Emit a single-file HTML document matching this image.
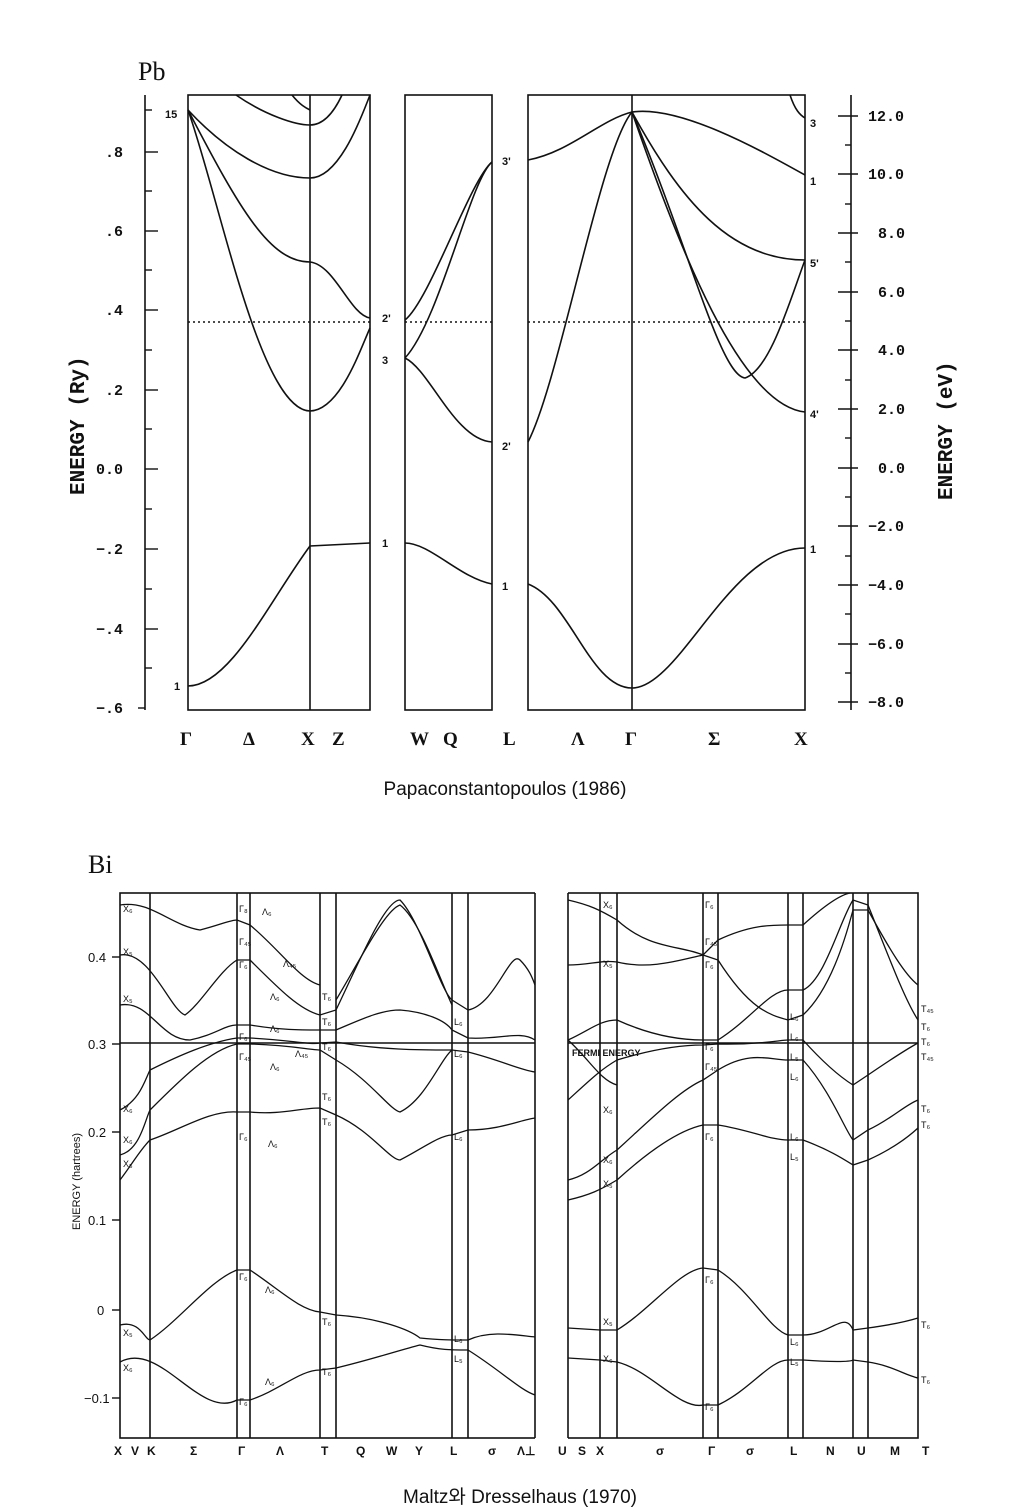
<!DOCTYPE html>
<html><head><meta charset="utf-8"><style>
html,body{margin:0;padding:0;background:#fff}
svg{display:block}
text{fill:#111}
.s{font-family:"Liberation Mono",monospace;font-size:15px;font-weight:bold}
.g{font-family:"Liberation Serif",serif;font-weight:bold;font-size:19px}
.t{font-family:"Liberation Sans",sans-serif;font-size:9px}
</style></head><body>
<svg width="1035" height="1512" viewBox="0 0 1035 1512" xmlns="http://www.w3.org/2000/svg">
<g fill="none" stroke="#111" stroke-width="1.6">
<!-- Pb axes -->
<line x1="145" y1="95" x2="145" y2="710"/>
<line x1="851" y1="95" x2="851" y2="710"/>
<g stroke-width="1.4">
<line x1="145" y1="110" x2="152" y2="110"/><line x1="145" y1="152" x2="158" y2="152"/><line x1="145" y1="191" x2="152" y2="191"/>
<line x1="145" y1="231" x2="158" y2="231"/><line x1="145" y1="270" x2="152" y2="270"/><line x1="145" y1="310" x2="158" y2="310"/>
<line x1="145" y1="350" x2="152" y2="350"/><line x1="145" y1="390" x2="158" y2="390"/><line x1="145" y1="429" x2="152" y2="429"/>
<line x1="145" y1="469" x2="158" y2="469"/><line x1="145" y1="509" x2="152" y2="509"/><line x1="145" y1="549" x2="158" y2="549"/>
<line x1="145" y1="589" x2="152" y2="589"/><line x1="145" y1="629" x2="158" y2="629"/><line x1="145" y1="668" x2="152" y2="668"/>
<line x1="138" y1="708" x2="145" y2="708"/>
<line x1="838" y1="116" x2="858" y2="116"/><line x1="845" y1="145" x2="851" y2="145"/><line x1="838" y1="174" x2="858" y2="174"/><line x1="845" y1="204" x2="851" y2="204"/>
<line x1="838" y1="233" x2="858" y2="233"/><line x1="845" y1="262" x2="851" y2="262"/><line x1="838" y1="292" x2="858" y2="292"/><line x1="845" y1="321" x2="851" y2="321"/>
<line x1="838" y1="350" x2="858" y2="350"/><line x1="845" y1="380" x2="851" y2="380"/><line x1="838" y1="409" x2="858" y2="409"/><line x1="845" y1="438" x2="851" y2="438"/>
<line x1="838" y1="468" x2="858" y2="468"/><line x1="845" y1="497" x2="851" y2="497"/><line x1="838" y1="526" x2="858" y2="526"/><line x1="845" y1="556" x2="851" y2="556"/>
<line x1="838" y1="585" x2="858" y2="585"/><line x1="845" y1="614" x2="851" y2="614"/><line x1="838" y1="644" x2="858" y2="644"/><line x1="845" y1="673" x2="851" y2="673"/>
<line x1="838" y1="702" x2="858" y2="702"/>
</g>
<!-- panels -->
<rect x="188" y="95" width="182" height="615"/>
<line x1="310" y1="95" x2="310" y2="710"/>
<rect x="405" y="95" width="87" height="615"/>
<rect x="528" y="95" width="277" height="615"/>
<line x1="632" y1="95" x2="632" y2="710"/>
<g stroke-dasharray="2,3" stroke-width="1.4"><line x1="188" y1="322" x2="370" y2="322"/><line x1="405" y1="322" x2="492" y2="322"/><line x1="528" y1="322" x2="805" y2="322"/></g>
<!-- bands -->
<path d="M188,686 C230,686 270,600 310,546 L370,543"/>
<path d="M188,110 C220,200 260,410 310,411 C340,410 360,350 370,328"/>
<path d="M188,110 C240,210 270,262 310,262 C335,265 350,315 370,318"/>
<path d="M188,110 C225,150 270,178 310,178 C340,178 362,115 370,95"/>
<path d="M236,95 C265,115 295,125 310,125 C325,125 335,110 342,95"/>
<path d="M292,95 C300,105 306,108 310,110"/>
<path d="M405,543 C430,543 460,578 492,584"/>
<path d="M405,358 C430,370 455,440 492,442"/>
<path d="M405,358 C440,320 470,180 492,162"/>
<path d="M405,320 C430,300 470,180 492,162"/>
<path d="M528,584 C570,600 590,688 632,688 C680,688 730,548 805,548"/>
<path d="M528,442 C560,380 600,150 632,112"/>
<path d="M528,160 C570,152 600,120 632,112"/>
<path d="M632,112 C680,105 760,150 805,175"/>
<path d="M632,112 C680,200 730,260 805,260"/>
<path d="M632,112 C690,250 720,375 745,378 C770,370 790,300 805,260"/>
<path d="M632,112 C680,250 740,405 805,412"/>
<path d="M790,95 C795,110 800,115 805,118"/>

<!-- Bi frame -->
<rect x="120" y="893" width="798" height="545"/>
<line x1="120" y1="1043" x2="918" y2="1043"/>
<g stroke-width="1.4">
<line x1="112" y1="957" x2="120" y2="957"/><line x1="112" y1="1044" x2="120" y2="1044"/><line x1="112" y1="1132" x2="120" y2="1132"/>
<line x1="112" y1="1220" x2="120" y2="1220"/><line x1="112" y1="1310" x2="120" y2="1310"/><line x1="112" y1="1398" x2="120" y2="1398"/>
</g>
<g>
<line x1="150" y1="893" x2="150" y2="1438"/><line x1="237" y1="893" x2="237" y2="1438"/><line x1="250" y1="893" x2="250" y2="1438"/>
<line x1="320" y1="893" x2="320" y2="1438"/><line x1="336" y1="893" x2="336" y2="1438"/><line x1="452" y1="893" x2="452" y2="1438"/>
<line x1="468" y1="893" x2="468" y2="1438"/><line x1="600" y1="893" x2="600" y2="1438"/><line x1="617" y1="893" x2="617" y2="1438"/>
<line x1="703" y1="893" x2="703" y2="1438"/><line x1="718" y1="893" x2="718" y2="1438"/><line x1="788" y1="893" x2="788" y2="1438"/>
<line x1="803" y1="893" x2="803" y2="1438"/><line x1="853" y1="893" x2="853" y2="1438"/><line x1="868" y1="893" x2="868" y2="1438"/>
</g>
<rect x="535" y="892" width="33" height="548" fill="#fff" stroke="none"/>
<line x1="535" y1="893" x2="535" y2="1438"/><line x1="568" y1="893" x2="568" y2="1438"/>
<g stroke-width="1.3">
<path d="M120,1362 C160,1340 200,1420 237,1400 L250,1400 C280,1390 300,1370 320,1370 L336,1368 C370,1360 400,1350 420,1345 C440,1350 450,1350 468,1350 C500,1370 520,1390 535,1395"/>
<path d="M120,1325 C140,1320 145,1340 150,1340 C180,1320 210,1280 237,1270 L250,1270 C280,1290 300,1310 320,1312 L336,1315 C380,1318 410,1330 420,1338 C440,1340 450,1340 468,1340 C490,1330 515,1335 535,1337"/>
<path d="M568,1328 L600,1330 L617,1330 C650,1310 680,1270 703,1268 L718,1270 C750,1290 770,1330 788,1335 L803,1335 C830,1335 845,1310 853,1330 L868,1328 C890,1325 905,1322 918,1318"/>
<path d="M568,1358 L600,1360 L617,1362 C650,1370 680,1410 703,1405 L718,1405 C750,1390 770,1360 788,1360 L803,1360 C830,1362 850,1362 853,1360 L868,1362 C890,1365 905,1375 918,1378"/>
<path d="M120,1180 C135,1160 140,1150 150,1140 C180,1130 210,1110 237,1112 L250,1112 C280,1115 300,1108 320,1108 L336,1115 C370,1130 390,1160 400,1160 C420,1150 440,1135 452,1135 L468,1130 C500,1130 520,1120 535,1118"/>
<path d="M120,1155 C140,1150 145,1120 150,1110 C180,1080 210,1050 237,1044 L250,1044 C290,1045 310,1050 320,1050 L336,1060 C370,1080 390,1110 400,1112 C425,1100 440,1060 452,1050 L468,1052 C500,1060 520,1070 535,1072"/>
<path d="M120,1110 C140,1100 145,1080 150,1070 C180,1055 210,1042 237,1038 L250,1038 C290,1040 310,1045 320,1043 L336,1042 C380,1050 420,1050 452,1050"/>
<path d="M120,1005 C150,1000 160,1040 190,1040 C215,1035 225,1025 237,1025 L250,1025 C280,1030 300,1030 320,1030 L336,1030 C360,1020 380,1010 400,1010 C425,1012 445,1020 452,1030 L468,1038 C500,1040 520,1030 535,1040"/>
<path d="M120,955 C150,950 170,1010 185,1015 C200,1005 220,970 237,960 L250,960 C280,990 300,1010 320,1015 L336,1010 C360,960 385,900 400,900 C420,920 440,990 452,1000 L468,1010 C495,1005 510,950 520,960 C530,970 533,980 535,985"/>
<path d="M336,1000 C360,960 385,910 400,905 C420,920 440,980 452,1005"/>
<path d="M120,905 C150,900 170,925 200,930 C220,925 230,920 237,920 L250,925 C280,950 300,980 320,985"/>
<path d="M568,1200 C590,1195 600,1190 617,1180 C650,1150 680,1130 703,1125 L718,1125 C750,1130 770,1140 788,1140 L803,1140 C830,1150 845,1160 853,1165 L868,1160 C890,1150 905,1140 918,1128"/>
<path d="M568,1180 C590,1175 600,1160 617,1150 C650,1120 680,1090 703,1080 L718,1070 C750,1050 770,1060 788,1060 L803,1060 C830,1090 845,1130 853,1140 L868,1130 C890,1120 905,1105 918,1100"/>
<path d="M568,1100 C590,1080 600,1070 617,1060 C650,1050 680,1045 703,1045 L718,1044 C760,1045 780,1040 788,1040 L803,1040 C830,1070 845,1080 853,1085 L868,1075 C890,1060 905,1050 918,1043"/>
<path d="M568,1040 C590,1030 600,1020 617,1020 C650,1035 680,1040 703,1040 L718,1040 C750,1020 770,990 788,990 L803,990 C825,980 840,920 853,900 L868,905 C890,960 905,1000 918,1020"/>
<path d="M568,900 C590,905 600,910 617,920 C650,950 680,945 703,955 L718,960 C750,1010 770,1015 788,1020 L803,1015 C830,990 845,940 853,910 L868,910 C890,950 905,975 918,985"/>
<path d="M568,965 C590,965 600,960 617,962 C650,970 680,960 703,955 L718,940 C750,925 770,925 788,925 L803,925 C825,905 840,895 850,893"/>
<path d="M568,1040 C590,1060 600,1080 617,1085"/>
</g>
</g>
<!-- Pb text -->
<text x="138" y="80" font-family="Liberation Serif,serif" font-size="26">Pb</text>
<g class="s">
<text x="105" y="157">.8</text><text x="105" y="236">.6</text><text x="105" y="315">.4</text><text x="105" y="395">.2</text>
<text x="96" y="474">0.0</text><text x="96" y="554">−.2</text><text x="96" y="634">−.4</text><text x="96" y="713">−.6</text>
<text x="868" y="121">12.0</text><text x="868" y="179">10.0</text><text x="878" y="238">8.0</text><text x="878" y="297">6.0</text>
<text x="878" y="355">4.0</text><text x="878" y="414">2.0</text><text x="878" y="473">0.0</text><text x="868" y="531">−2.0</text>
<text x="868" y="590">−4.0</text><text x="868" y="649">−6.0</text><text x="868" y="707">−8.0</text>
</g>
<text class="s" font-size="22" transform="translate(84,495) rotate(-90)" style="font-size:21px">ENERGY (Ry)</text>
<text class="s" transform="translate(952,500) rotate(-90)" style="font-size:21px">ENERGY (eV)</text>
<g font-family="Liberation Sans,sans-serif" font-size="11" font-weight="bold">
<text x="165" y="118">15</text><text x="174" y="690">1</text><text x="382" y="322">2'</text><text x="382" y="364">3</text><text x="382" y="547">1</text>
<text x="502" y="165">3'</text><text x="502" y="450">2'</text><text x="502" y="590">1</text>
<text x="810" y="127">3</text><text x="810" y="185">1</text><text x="810" y="267">5'</text><text x="810" y="418">4'</text><text x="810" y="553">1</text>
</g>
<g class="g">
<text x="180" y="745">Γ</text><text x="243" y="745">Δ</text><text x="301" y="745">X</text><text x="332" y="745">Z</text>
<text x="410" y="745">W</text><text x="443" y="745">Q</text><text x="503" y="745">L</text><text x="571" y="745">Λ</text>
<text x="625" y="745">Γ</text><text x="708" y="745">Σ</text><text x="794" y="745">X</text>
</g>
<text x="505" y="795" text-anchor="middle" font-family="Liberation Sans,sans-serif" font-size="19">Papaconstantopoulos (1986)</text>
<!-- Bi text -->
<text x="88" y="873" font-family="Liberation Serif,serif" font-size="26">Bi</text>
<g font-family="Liberation Sans,sans-serif" font-size="13">
<text x="88" y="962">0.4</text><text x="88" y="1049">0.3</text><text x="88" y="1137">0.2</text><text x="88" y="1225">0.1</text>
<text x="97" y="1315">0</text><text x="84" y="1403">−0.1</text>
</g>
<text transform="translate(80,1230) rotate(-90)" font-family="Liberation Sans,sans-serif" font-size="11">ENERGY (hartrees)</text>
<text x="572" y="1056" font-family="Liberation Sans,sans-serif" font-size="9" font-weight="bold">FERMI   ENERGY</text>
<g font-family="Liberation Sans,sans-serif" font-size="12" font-weight="bold">
<text x="114" y="1455">X</text><text x="131" y="1455">V</text><text x="147" y="1455">K</text><text x="190" y="1455">Σ</text>
<text x="238" y="1455">Γ</text><text x="276" y="1455">Λ</text><text x="321" y="1455">T</text><text x="356" y="1455">Q</text>
<text x="386" y="1455">W</text><text x="415" y="1455">Y</text><text x="450" y="1455">L</text><text x="488" y="1455">σ</text>
<text x="517" y="1455">Λ⊥</text><text x="558" y="1455">U</text><text x="578" y="1455">S</text><text x="596" y="1455">X</text>
<text x="656" y="1455">σ</text><text x="708" y="1455">Γ</text><text x="746" y="1455">σ</text><text x="790" y="1455">L</text>
<text x="826" y="1455">N</text><text x="857" y="1455">U</text><text x="890" y="1455">M</text><text x="922" y="1455">T</text>
</g>
<g class="t">
<text x="123" y="912">X₆</text><text x="123" y="955">X₅</text><text x="123" y="1002">X₅</text><text x="123" y="1112">X₆</text><text x="123" y="1143">X₆</text><text x="123" y="1167">X₅</text>
<text x="123" y="1336">X₅</text><text x="123" y="1371">X₆</text>
<text x="239" y="912">Γ₈</text><text x="239" y="945">Γ₄₅</text><text x="239" y="968">Γ₆</text><text x="239" y="1040">Γ₆</text><text x="239" y="1060">Γ₄₅</text>
<text x="239" y="1140">Γ₆</text><text x="239" y="1280">Γ₆</text><text x="239" y="1405">Γ₆</text>
<text x="262" y="915">Λ₆</text><text x="283" y="967">Λ₄₅</text><text x="270" y="1000">Λ₆</text><text x="270" y="1032">Λ₆</text><text x="295" y="1057">Λ₄₅</text><text x="270" y="1070">Λ₆</text><text x="268" y="1147">Λ₆</text><text x="265" y="1293">Λ₆</text><text x="265" y="1385">Λ₆</text>
<text x="322" y="1000">T₆</text><text x="322" y="1025">T₆</text><text x="322" y="1050">T₆</text><text x="322" y="1100">T₆</text><text x="322" y="1125">T₆</text><text x="322" y="1325">T₆</text><text x="322" y="1375">T₆</text>
<text x="454" y="1025">L₆</text><text x="454" y="1057">L₆</text><text x="454" y="1140">L₆</text><text x="454" y="1342">L₆</text><text x="454" y="1362">L₅</text>
<text x="603" y="908">X₆</text><text x="603" y="967">X₅</text><text x="603" y="1113">X₆</text><text x="603" y="1163">X₆</text><text x="603" y="1187">X₅</text><text x="603" y="1325">X₅</text><text x="603" y="1362">X₆</text>
<text x="705" y="908">Γ₆</text><text x="705" y="945">Γ₄₅</text><text x="705" y="968">Γ₆</text><text x="705" y="1050">Γ₆</text><text x="705" y="1070">Γ₄₅</text><text x="705" y="1140">Γ₆</text><text x="705" y="1283">Γ₆</text><text x="705" y="1410">Γ₆</text>
<text x="790" y="1020">L₆</text><text x="790" y="1040">L₆</text><text x="790" y="1060">L₅</text><text x="790" y="1080">L₆</text><text x="790" y="1140">L₆</text><text x="790" y="1160">L₅</text><text x="790" y="1345">L₆</text><text x="790" y="1365">L₅</text>
<text x="921" y="1012">T₄₅</text><text x="921" y="1030">T₆</text><text x="921" y="1045">T₆</text><text x="921" y="1060">T₄₅</text><text x="921" y="1112">T₆</text><text x="921" y="1128">T₆</text><text x="921" y="1328">T₆</text><text x="921" y="1383">T₆</text>
</g>
<text x="520" y="1503" text-anchor="middle" font-family="Liberation Sans,'Noto Sans CJK KR',sans-serif" font-size="19">Maltz와 Dresselhaus (1970)</text>
</svg>
</body></html>
